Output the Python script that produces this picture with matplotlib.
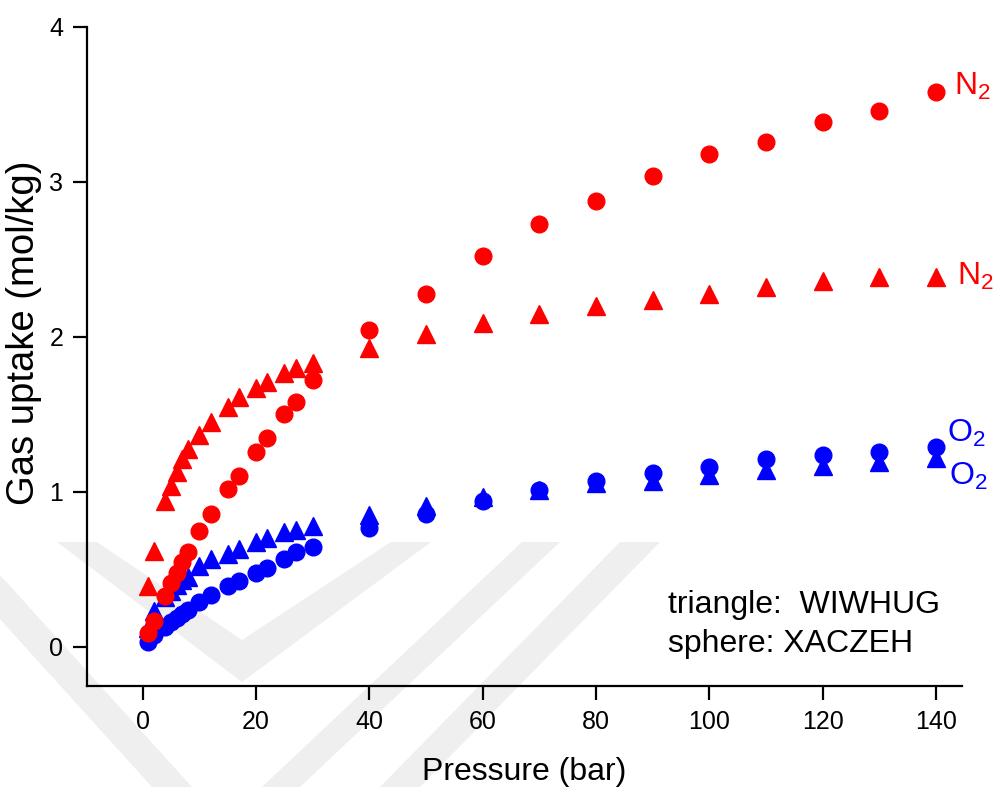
import matplotlib
matplotlib.use("Agg")
import matplotlib.pyplot as plt
from matplotlib.patches import Polygon

plt.rcParams['font.family'] = ['Liberation Sans', 'DejaVu Sans']
plt.rcParams['mathtext.fontset'] = 'custom'
plt.rcParams['mathtext.rm'] = 'Liberation Sans'
plt.rcParams['mathtext.default'] = 'regular'

# pressures (bar)
pressure = [1, 2, 4, 5, 6, 7, 8, 10, 12, 15, 17, 20, 22, 25, 27, 30,
            40, 50, 60, 70, 80, 90, 100, 110, 120, 130, 140]

# WIWHUG (triangles)
n2_wiwhug = [0.39, 0.62, 0.94, 1.04, 1.13, 1.21, 1.28, 1.37, 1.45, 1.55, 1.61, 1.67, 1.71, 1.77, 1.80, 1.83,
             1.93, 2.02, 2.09, 2.15, 2.20, 2.24, 2.275, 2.32, 2.36, 2.385, 2.39]
o2_wiwhug = [0.12, 0.23, 0.32, 0.36, 0.40, 0.43, 0.45, 0.52, 0.57, 0.60, 0.63, 0.675, 0.70, 0.74, 0.755, 0.78,
             0.85, 0.91, 0.97, 1.01, 1.06, 1.07, 1.11, 1.14, 1.17, 1.195, 1.22]

# XACZEH (spheres)
n2_xaczeh = [0.09, 0.17, 0.33, 0.41, 0.48, 0.55, 0.61, 0.75, 0.86, 1.02, 1.10, 1.26, 1.35, 1.50, 1.58, 1.72,
             2.045, 2.28, 2.52, 2.73, 2.88, 3.04, 3.18, 3.26, 3.39, 3.46, 3.58]
o2_xaczeh = [0.035, 0.08, 0.13, 0.16, 0.185, 0.21, 0.24, 0.29, 0.335, 0.395, 0.425, 0.48, 0.51, 0.57, 0.61, 0.645,
             0.77, 0.86, 0.94, 1.01, 1.07, 1.12, 1.16, 1.21, 1.24, 1.26, 1.29]

W, H = 995, 787
fig = plt.figure(figsize=(W / 100, H / 100), dpi=100)


def px(points):
    return [(x / W, 1 - y / H) for x, y in points]


# faint background watermark (chevrons)
shapes = [
    [(57, 542), (97, 542), (242, 640), (391, 542), (431, 542), (242, 682)],
    [(-40, 575), (0, 575), (192, 787), (152, 787)],
    [(522, 542), (560, 542), (300, 787), (262, 787)],
    [(620, 542), (660, 542), (420, 787), (380, 787)],
]
for s in shapes:
    fig.patches.append(Polygon(px(s), closed=True, transform=fig.transFigure,
                               facecolor='#efefef', edgecolor='none', zorder=-1))

ax = fig.add_axes([87 / W, 1 - 686 / H, (962 - 87) / W, (686 - 27) / H])
ax.set_facecolor('none')

ax.plot(pressure, o2_wiwhug, '^', color='blue', markersize=13, linestyle='none')
ax.plot(pressure, o2_xaczeh, 'o', color='blue', markersize=12, linestyle='none')
ax.plot(pressure, n2_wiwhug, '^', color='red', markersize=13, linestyle='none')
ax.plot(pressure, n2_xaczeh, 'o', color='red', markersize=12, linestyle='none')

ax.set_xlim(-9.8, 144.6)
ax.set_ylim(-0.252, 4.0)
ax.set_xticks([0, 20, 40, 60, 80, 100, 120, 140])
ax.set_yticks([0, 1, 2, 3, 4])

for side in ['top', 'right']:
    ax.spines[side].set_visible(False)
for side in ['left', 'bottom']:
    ax.spines[side].set_linewidth(1.6)
ax.tick_params(direction='out', length=10, width=1.6, labelsize=18, pad=7)

ax.set_xlabel('Pressure (bar)', fontsize=23, labelpad=17)
ax.set_ylabel('Gas uptake (mol/kg)', fontsize=27.5)
ax.yaxis.set_label_coords(-0.052, 0.536)

ax.text(143.2, 3.56, 'N$_2$', color='red', fontsize=23, clip_on=False)
ax.text(143.8, 2.335, 'N$_2$', color='red', fontsize=23, clip_on=False)
ax.text(141.9, 1.325, 'O$_2$', color='blue', fontsize=23, clip_on=False)
ax.text(142.3, 1.045, 'O$_2$', color='blue', fontsize=23, clip_on=False)

ax.text(92.7, 0.219, 'triangle:  WIWHUG', fontsize=23)
ax.text(92.7, -0.032, 'sphere: XACZEH', fontsize=23)

fig.savefig('out.png', dpi=100)
